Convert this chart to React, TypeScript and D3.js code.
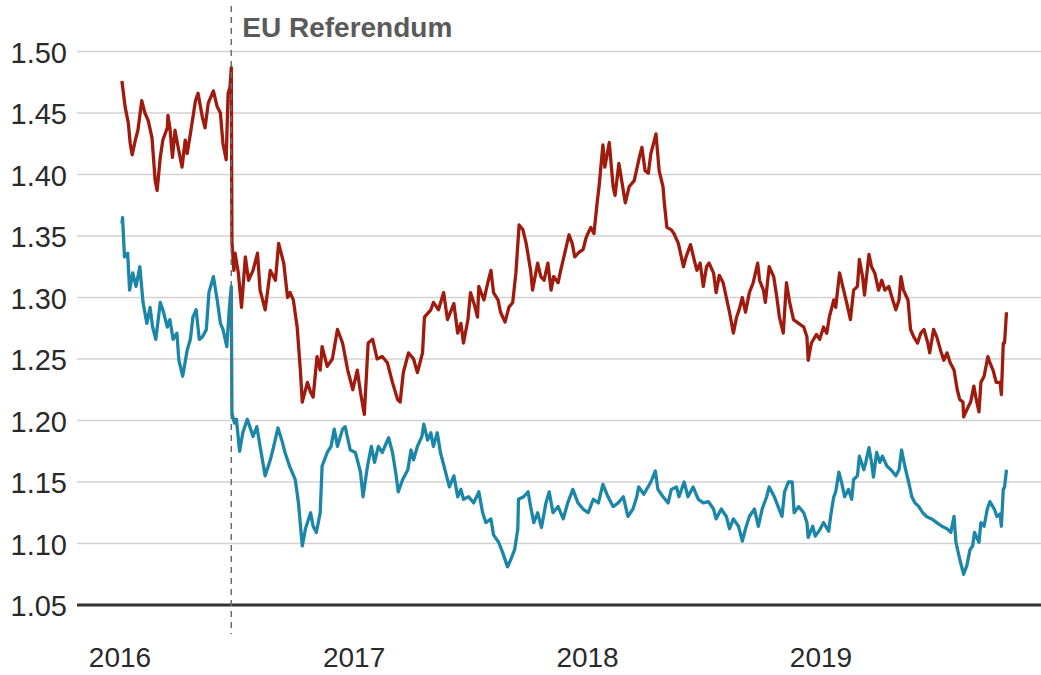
import React from "react";
import * as d3 from "d3";

// GBP/USD (red) and GBP/EUR (blue)
const gbpUsd: [string, number][] = [
  ["2016-01-04",1.476],["2016-01-09",1.455],["2016-01-14",1.442],["2016-01-17",1.425],["2016-01-20",1.416],["2016-01-25",1.428],["2016-01-29",1.436],
  ["2016-02-04",1.460],["2016-02-09",1.450],["2016-02-14",1.444],["2016-02-20",1.430],["2016-02-25",1.395],["2016-02-28",1.387],
  ["2016-03-04",1.414],["2016-03-08",1.428],["2016-03-15",1.438],["2016-03-16",1.448],["2016-03-19",1.438],["2016-03-23",1.414],["2016-03-27",1.436],
  ["2016-04-01",1.422],["2016-04-07",1.406],["2016-04-12",1.428],["2016-04-15",1.417],["2016-04-20",1.433],["2016-04-28",1.460],
  ["2016-05-02",1.466],["2016-05-09",1.446],["2016-05-13",1.438],["2016-05-18",1.458],["2016-05-26",1.468],
  ["2016-06-01",1.455],["2016-06-06",1.450],["2016-06-10",1.425],["2016-06-15",1.412],["2016-06-18",1.466],["2016-06-21",1.471],["2016-06-23",1.487],
  ["2016-06-24",1.345],["2016-06-27",1.322],["2016-06-29",1.336],["2016-07-04",1.320],["2016-07-09",1.292],["2016-07-15",1.333],["2016-07-20",1.314],["2016-07-27",1.322],
  ["2016-08-03",1.336],["2016-08-07",1.306],["2016-08-15",1.290],["2016-08-23",1.322],["2016-08-31",1.314],
  ["2016-09-05",1.344],["2016-09-13",1.328],["2016-09-19",1.300],["2016-09-23",1.304],["2016-09-28",1.298],
  ["2016-10-04",1.276],["2016-10-09",1.241],["2016-10-12",1.215],["2016-10-20",1.231],["2016-10-25",1.223],["2016-10-29",1.219],
  ["2016-11-04",1.252],["2016-11-09",1.241],["2016-11-12",1.260],["2016-11-20",1.244],["2016-11-28",1.250],
  ["2016-12-06",1.274],["2016-12-14",1.263],["2016-12-22",1.241],["2016-12-30",1.225],
  ["2017-01-06",1.241],["2017-01-11",1.223],["2017-01-17",1.205],["2017-01-23",1.263],["2017-01-30",1.266],
  ["2017-02-06",1.250],["2017-02-14",1.252],["2017-02-22",1.247],["2017-03-02",1.231],["2017-03-10",1.217],["2017-03-14",1.215],["2017-03-19",1.239],["2017-03-27",1.255],
  ["2017-04-04",1.250],["2017-04-10",1.239],["2017-04-18",1.255],["2017-04-21",1.284],["2017-05-01",1.290],["2017-05-05",1.296],["2017-05-13",1.290],["2017-05-21",1.304],["2017-05-27",1.282],
  ["2017-06-06",1.295],["2017-06-12",1.271],["2017-06-17",1.279],["2017-06-21",1.263],["2017-06-28",1.282],
  ["2017-07-02",1.304],["2017-07-07",1.296],["2017-07-13",1.284],["2017-07-15",1.309],["2017-07-23",1.298],["2017-07-29",1.312],
  ["2017-08-03",1.322],["2017-08-07",1.304],["2017-08-14",1.298],["2017-08-18",1.288],["2017-08-25",1.280],["2017-08-31",1.292],
  ["2017-09-06",1.296],["2017-09-11",1.320],["2017-09-16",1.359],["2017-09-22",1.355],["2017-09-27",1.344],
  ["2017-10-04",1.322],["2017-10-07",1.306],["2017-10-15",1.328],["2017-10-20",1.317],["2017-10-25",1.314],["2017-10-31",1.328],
  ["2017-11-05",1.306],["2017-11-09",1.317],["2017-11-16",1.312],["2017-11-20",1.322],["2017-11-25",1.333],
  ["2017-12-03",1.351],["2017-12-08",1.344],["2017-12-12",1.333],["2017-12-19",1.337],["2017-12-25",1.339],["2017-12-30",1.349],
  ["2018-01-06",1.357],["2018-01-11",1.352],["2018-01-16",1.377],["2018-01-19",1.390],["2018-01-25",1.424],["2018-01-28",1.406],
  ["2018-02-04",1.426],["2018-02-10",1.390],["2018-02-13",1.383],["2018-02-19",1.409],["2018-02-24",1.393],
  ["2018-03-01",1.377],["2018-03-07",1.390],["2018-03-15",1.395],["2018-03-23",1.414],["2018-03-27",1.422],
  ["2018-04-01",1.403],["2018-04-06",1.401],["2018-04-10",1.417],["2018-04-18",1.433],["2018-04-23",1.403],["2018-04-29",1.390],
  ["2018-05-01",1.377],["2018-05-05",1.357],["2018-05-12",1.355],["2018-05-16",1.352],["2018-05-23",1.344],["2018-05-31",1.325],
  ["2018-06-04",1.333],["2018-06-11",1.343],["2018-06-17",1.330],["2018-06-21",1.322],["2018-06-26",1.328],
  ["2018-07-01",1.309],["2018-07-06",1.325],["2018-07-10",1.328],["2018-07-17",1.320],["2018-07-21",1.304],["2018-07-26",1.318],
  ["2018-08-01",1.312],["2018-08-06",1.300],["2018-08-11",1.288],["2018-08-17",1.271],["2018-08-22",1.284],["2018-08-26",1.290],["2018-08-31",1.300],
  ["2018-09-05",1.288],["2018-09-11",1.304],["2018-09-17",1.312],["2018-09-24",1.328],["2018-09-27",1.314],
  ["2018-10-03",1.306],["2018-10-06",1.296],["2018-10-12",1.325],["2018-10-19",1.317],["2018-10-24",1.300],["2018-10-28",1.284],
  ["2018-11-03",1.271],["2018-11-08",1.312],["2018-11-13",1.296],["2018-11-19",1.282],["2018-11-27",1.279],
  ["2018-12-05",1.276],["2018-12-10",1.268],["2018-12-12",1.249],["2018-12-17",1.263],["2018-12-25",1.270],["2018-12-30",1.266],
  ["2019-01-05",1.276],["2019-01-10",1.271],["2019-01-14",1.284],["2019-01-21",1.298],["2019-01-24",1.292],["2019-01-30",1.320],
  ["2019-02-04",1.309],["2019-02-10",1.296],["2019-02-16",1.282],["2019-02-21",1.306],["2019-02-27",1.309],
  ["2019-03-02",1.331],["2019-03-07",1.317],["2019-03-10",1.302],["2019-03-17",1.335],["2019-03-21",1.325],["2019-03-26",1.320],
  ["2019-04-01",1.306],["2019-04-06",1.314],["2019-04-11",1.306],["2019-04-17",1.309],["2019-04-22",1.300],["2019-04-28",1.290],
  ["2019-05-03",1.298],["2019-05-06",1.317],["2019-05-10",1.306],["2019-05-17",1.298],["2019-05-21",1.274],["2019-05-26",1.268],
  ["2019-06-01",1.263],["2019-06-06",1.271],["2019-06-11",1.274],["2019-06-17",1.263],["2019-06-20",1.255],["2019-06-26",1.274],
  ["2019-07-01",1.268],["2019-07-07",1.257],["2019-07-12",1.249],["2019-07-17",1.255],["2019-07-22",1.247],["2019-07-28",1.241],
  ["2019-08-02",1.225],["2019-08-06",1.217],["2019-08-11",1.215],["2019-08-12",1.203],["2019-08-19",1.211],["2019-08-23",1.215],["2019-08-28",1.228],["2019-08-31",1.219],
  ["2019-09-05",1.207],["2019-09-08",1.231],["2019-09-13",1.236],["2019-09-19",1.252],["2019-09-22",1.247],["2019-09-27",1.241],
  ["2019-10-02",1.231],["2019-10-08",1.231],["2019-10-10",1.221],["2019-10-13",1.263],["2019-10-15",1.263],["2019-10-18",1.288],
];

const gbpEur: [string, number][] = [
  ["2016-01-04",1.360],["2016-01-05",1.365],["2016-01-08",1.333],["2016-01-13",1.336],["2016-01-16",1.306],["2016-01-21",1.320],["2016-01-26",1.309],
  ["2016-02-01",1.325],["2016-02-06",1.296],["2016-02-12",1.279],["2016-02-17",1.292],["2016-02-21",1.276],["2016-02-26",1.266],
  ["2016-03-04",1.296],["2016-03-08",1.290],["2016-03-15",1.276],["2016-03-19",1.282],["2016-03-24",1.266],["2016-03-30",1.271],
  ["2016-04-02",1.249],["2016-04-08",1.236],["2016-04-15",1.257],["2016-04-20",1.266],["2016-04-24",1.284],["2016-04-29",1.290],
  ["2016-05-04",1.266],["2016-05-09",1.268],["2016-05-15",1.274],["2016-05-19",1.304],["2016-05-26",1.317],
  ["2016-06-01",1.298],["2016-06-06",1.279],["2016-06-10",1.274],["2016-06-16",1.260],["2016-06-20",1.292],["2016-06-23",1.309],
  ["2016-06-24",1.206],["2016-06-28",1.198],["2016-07-01",1.201],["2016-07-06",1.175],["2016-07-11",1.190],["2016-07-18",1.201],["2016-07-22",1.195],["2016-07-27",1.187],
  ["2016-08-02",1.195],["2016-08-07",1.179],["2016-08-15",1.155],["2016-08-23",1.168],["2016-08-27",1.176],
  ["2016-09-04",1.194],["2016-09-10",1.184],["2016-09-15",1.174],["2016-09-22",1.163],
  ["2016-10-01",1.152],["2016-10-06",1.133],["2016-10-12",1.098],["2016-10-17",1.112],["2016-10-25",1.125],["2016-10-29",1.114],
  ["2016-11-03",1.109],["2016-11-09",1.125],["2016-11-12",1.163],["2016-11-20",1.174],["2016-11-26",1.179],
  ["2016-12-01",1.193],["2016-12-06",1.179],["2016-12-14",1.193],["2016-12-18",1.195],["2016-12-26",1.176],
  ["2017-01-03",1.174],["2017-01-11",1.158],["2017-01-15",1.138],["2017-01-22",1.163],["2017-01-28",1.179],
  ["2017-02-02",1.166],["2017-02-08",1.179],["2017-02-14",1.174],["2017-02-24",1.186],
  ["2017-03-02",1.174],["2017-03-07",1.158],["2017-03-11",1.142],["2017-03-18",1.152],["2017-03-26",1.160],["2017-03-31",1.176],
  ["2017-04-04",1.168],["2017-04-10",1.179],["2017-04-17",1.187],["2017-04-20",1.197],["2017-04-26",1.184],
  ["2017-05-01",1.190],["2017-05-05",1.179],["2017-05-11",1.190],["2017-05-16",1.174],["2017-05-24",1.158],["2017-05-30",1.146],
  ["2017-06-06",1.155],["2017-06-12",1.138],["2017-06-17",1.144],["2017-06-21",1.136],["2017-06-29",1.138],
  ["2017-07-07",1.133],["2017-07-15",1.142],["2017-07-21",1.125],["2017-07-26",1.117],
  ["2017-08-03",1.120],["2017-08-07",1.107],["2017-08-15",1.101],["2017-08-21",1.093],["2017-08-29",1.081],
  ["2017-09-03",1.087],["2017-09-09",1.095],["2017-09-14",1.112],["2017-09-15",1.136],["2017-09-23",1.138],["2017-09-30",1.142],
  ["2017-10-04",1.130],["2017-10-09",1.117],["2017-10-15",1.125],["2017-10-21",1.113],["2017-10-28",1.133],
  ["2017-11-02",1.142],["2017-11-08",1.125],["2017-11-16",1.130],["2017-11-24",1.120],
  ["2017-12-01",1.133],["2017-12-09",1.144],["2017-12-17",1.133],["2017-12-25",1.128],
  ["2018-01-02",1.125],["2018-01-10",1.136],["2018-01-18",1.133],["2018-01-25",1.148],
  ["2018-02-02",1.138],["2018-02-10",1.130],["2018-02-18",1.133],["2018-02-26",1.138],
  ["2018-03-05",1.122],["2018-03-13",1.128],["2018-03-19",1.138],["2018-03-22",1.146],["2018-03-30",1.140],
  ["2018-04-10",1.150],["2018-04-17",1.159],["2018-04-21",1.144],["2018-04-29",1.138],
  ["2018-05-07",1.133],["2018-05-12",1.144],["2018-05-20",1.146],["2018-05-24",1.138],
  ["2018-06-01",1.150],["2018-06-07",1.138],["2018-06-15",1.146],["2018-06-23",1.136],
  ["2018-07-01",1.133],["2018-07-09",1.134],["2018-07-17",1.128],["2018-07-21",1.120],["2018-07-29",1.128],
  ["2018-08-06",1.122],["2018-08-11",1.112],["2018-08-17",1.120],["2018-08-25",1.114],["2018-08-31",1.102],
  ["2018-09-05",1.112],["2018-09-11",1.122],["2018-09-19",1.128],["2018-09-25",1.114],
  ["2018-10-01",1.128],["2018-10-08",1.138],["2018-10-12",1.146],["2018-10-20",1.138],["2018-10-26",1.130],
  ["2018-11-01",1.122],["2018-11-05",1.142],["2018-11-11",1.150],["2018-11-17",1.150],["2018-11-20",1.125],["2018-11-27",1.130],
  ["2018-12-05",1.125],["2018-12-10",1.117],["2018-12-12",1.105],["2018-12-19",1.114],["2018-12-23",1.106],["2018-12-30",1.111],
  ["2019-01-05",1.117],["2019-01-13",1.110],["2019-01-16",1.122],["2019-01-21",1.138],["2019-01-24",1.142],["2019-01-29",1.158],
  ["2019-02-02",1.150],["2019-02-07",1.138],["2019-02-13",1.144],["2019-02-18",1.136],["2019-02-21",1.152],["2019-02-27",1.155],
  ["2019-03-02",1.171],["2019-03-09",1.160],["2019-03-12",1.166],["2019-03-17",1.178],["2019-03-21",1.166],["2019-03-24",1.154],["2019-03-29",1.174],
  ["2019-04-03",1.166],["2019-04-07",1.171],["2019-04-14",1.163],["2019-04-22",1.159],["2019-04-28",1.155],
  ["2019-05-03",1.160],["2019-05-07",1.176],["2019-05-12",1.163],["2019-05-18",1.150],["2019-05-23",1.138],["2019-05-28",1.133],
  ["2019-06-03",1.130],["2019-06-09",1.125],["2019-06-15",1.122],["2019-06-23",1.120],
  ["2019-07-01",1.117],["2019-07-09",1.114],["2019-07-17",1.112],["2019-07-23",1.109],["2019-07-28",1.122],["2019-07-31",1.101],
  ["2019-08-06",1.087],["2019-08-12",1.075],["2019-08-17",1.082],["2019-08-22",1.095],["2019-08-26",1.098],["2019-08-29",1.109],
  ["2019-09-05",1.101],["2019-09-08",1.117],["2019-09-13",1.114],["2019-09-18",1.128],["2019-09-22",1.134],["2019-09-29",1.128],
  ["2019-10-03",1.122],["2019-10-08",1.124],["2019-10-10",1.114],["2019-10-13",1.144],["2019-10-15",1.146],["2019-10-18",1.160],
];

const yTicks = [1.05, 1.1, 1.15, 1.2, 1.25, 1.3, 1.35, 1.4, 1.45, 1.5];
const xTickYears = ["2016", "2017", "2018", "2019"];
const referendumDate = "2016-06-23";
const referendumLabel = "EU Referendum";

const W = 1041;
const H = 675;
const parse = d3.timeParse("%Y-%m-%d");

export default function App() {
  const x = d3
    .scaleTime()
    .domain([parse("2016-01-01")!, parse("2019-01-01")!])
    .range([120, 821]);
  const y = d3.scaleLinear().domain([1.05, 1.5]).range([605, 51.5]);

  const line = d3
    .line<[string, number]>()
    .x((d) => x(parse(d[0])!))
    .y((d) => y(d[1]))
    .curve(d3.curveLinear);

  const refX = x(parse(referendumDate)!);
  const font = "'Liberation Sans', Arial, Helvetica, sans-serif";

  return (
    <svg
      width={W}
      height={H}
      style={{ position: "absolute", left: 0, top: 0, background: "#fff" }}
    >
      {yTicks.map((t, i) => (
        <g key={t}>
          {i > 0 && (
            <line x1={77} x2={W} y1={y(t)} y2={y(t)} stroke="#d2d2d2" strokeWidth={1.6} />
          )}
          <text
            x={67}
            y={y(t) + 11}
            textAnchor="end"
            fontFamily={font}
            fontSize={29}
            fill="#2a2a2a"
          >
            {t.toFixed(2)}
          </text>
        </g>
      ))}
      <path d={line(gbpEur) ?? ""} fill="none" stroke="#1b86a8" strokeWidth={3.3} strokeLinejoin="round" />
      <path d={line(gbpUsd) ?? ""} fill="none" stroke="#9e1b0d" strokeWidth={3.3} strokeLinejoin="round" />
      <line x1={77} x2={W} y1={y(1.05)} y2={y(1.05)} stroke="#333" strokeWidth={3.2} />
      <line
        x1={refX}
        x2={refX}
        y1={6}
        y2={634}
        stroke="#6a6a6a"
        strokeWidth={1.5}
        strokeDasharray="6,5"
      />
      <text x={refX + 11} y={37} fontFamily={font} fontSize={28} fontWeight="bold" fill="#5a5a5a">
        {referendumLabel}
      </text>
      {xTickYears.map((yr) => (
        <text
          key={yr}
          x={x(parse(`${yr}-01-01`)!)}
          y={667}
          textAnchor="middle"
          fontFamily={font}
          fontSize={28}
          fill="#2a2a2a"
        >
          {yr}
        </text>
      ))}
    </svg>
  );
}
